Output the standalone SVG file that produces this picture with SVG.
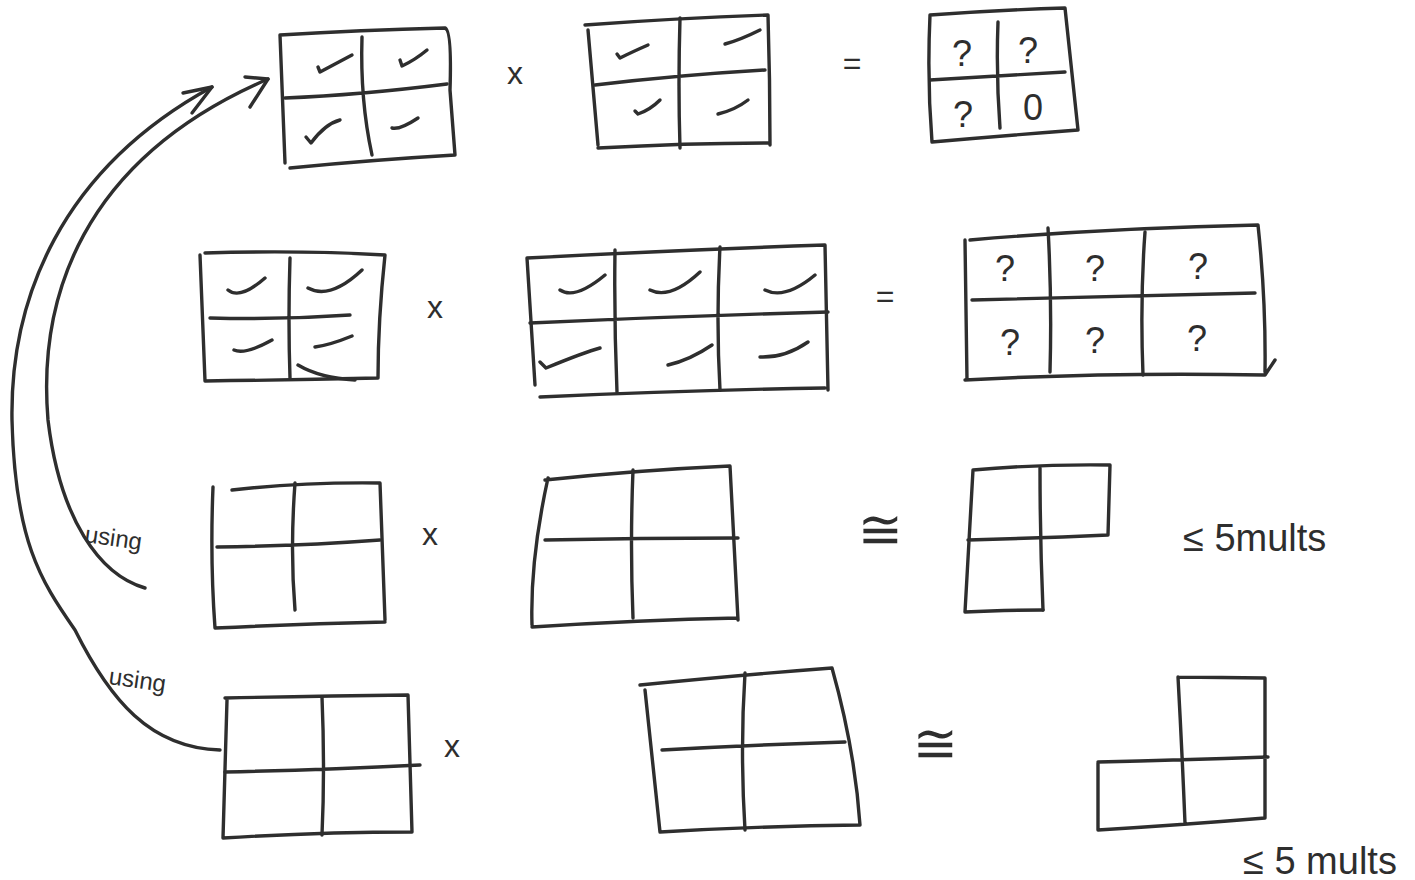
<svg xmlns="http://www.w3.org/2000/svg" width="1415" height="880" viewBox="0 0 1415 880">
<style>
.s{fill:none;stroke:#2e2e2e;stroke-width:3.4;stroke-linecap:round;stroke-linejoin:round}
.t{fill:#2e2e2e;font-family:"Liberation Sans",Arial,sans-serif}
.q{font-size:36px;text-anchor:middle}
.op{font-size:32px;text-anchor:middle}
.cg{font-size:54px;text-anchor:middle;font-family:"DejaVu Sans",sans-serif}
.lab{font-size:24px}
.ml{font-size:38px}
</style>
<rect width="1415" height="880" fill="#fff"/>
<g id="connectors" class="s">
<path d="M220,750 C150,748 110,700 75,630 C40,580 15,540 12,420 C10,300 60,170 212,87"/>
<path d="M183,93 L212,87 L192,113"/>
<path d="M145,588 C100,575 60,520 48,420 C38,300 80,160 268,79"/>
<path d="M245,77 L268,79 L250,107"/>
</g>
<g id="A1" class="s">
<path d="M280,35 Q360,30 445,28 Q452,30 450,90 L455,155 M290,168 Q370,160 455,155 M280,35 L285,163"/>
<path d="M362,37 Q360,100 372,155 M285,98 Q360,95 447,84"/>
<path d="M318,67 L320,72 Q335,64 352,55 M400,60 L402,66 Q415,60 427,50 M306,137 L311,143 Q325,124 340,120 M392,128 Q400,130 418,118"/>
</g>
<text class="t op" x="515" y="84">x</text>
<g id="B1" class="s">
<path d="M585,25 Q680,18 768,15 Q770,80 770,145 M598,148 Q690,143 770,143 M588,30 L598,145"/>
<path d="M680,18 Q678,85 680,148 M595,85 Q680,75 765,70"/>
<path d="M617,54 L620,58 Q632,52 648,45 M725,44 Q740,40 760,30 M635,111 L638,114 Q650,110 660,100 M718,114 Q735,110 748,100"/>
</g>
<text class="t op" x="852" y="74">=</text>
<g id="C1" class="s">
<path d="M930,15 Q1000,10 1065,8 L1078,130 M932,142 Q1000,136 1078,130 M930,15 Q927,80 932,142"/>
<path d="M998,22 Q996,75 1000,128 M930,80 Q1000,76 1065,72"/>
</g>
<text class="t q" x="962" y="66">?</text>
<text class="t q" x="1028" y="63">?</text>
<text class="t q" x="963" y="127">?</text>
<text class="t q" x="1033" y="120">0</text>
<g id="A2" class="s">
<path d="M205,253 Q300,250 385,255 Q378,320 378,378 M205,381 Q290,380 378,378 M200,255 L205,381"/>
<path d="M290,258 Q288,320 290,378 M210,318 Q280,320 350,315"/>
<path d="M228,290 Q240,300 265,278 M308,288 Q330,300 362,270 M234,350 Q245,355 272,340 M315,347 Q330,345 352,336 M298,365 Q320,378 355,380"/>
</g>
<text class="t op" x="435" y="318">x</text>
<g id="B2" class="s">
<path d="M527,258 Q680,250 825,245 L828,390 M540,397 Q690,390 825,388 M527,258 L535,385"/>
<path d="M615,250 Q614,320 617,392 M720,247 Q716,320 720,390 M530,323 Q680,316 828,312"/>
<path d="M560,290 Q575,300 605,275 M650,290 Q670,300 700,272 M765,290 Q785,300 815,275 M540,362 L546,368 Q585,352 600,348 M668,365 Q690,360 712,345 M760,357 Q785,358 808,342"/>
</g>
<text class="t op" x="885" y="307">=</text>
<g id="C2" class="s">
<path d="M970,240 Q1110,228 1258,225 Q1266,300 1265,372 M965,380 Q1110,372 1265,375 L1275,360 M965,240 L967,380"/>
<path d="M1048,228 Q1052,300 1050,372 M1145,232 Q1140,300 1143,375 M972,300 Q1110,296 1255,293"/>
</g>
<text class="t q" x="1005" y="281">?</text>
<text class="t q" x="1095" y="281">?</text>
<text class="t q" x="1198" y="279">?</text>
<text class="t q" x="1010" y="355">?</text>
<text class="t q" x="1095" y="353">?</text>
<text class="t q" x="1197" y="351">?</text>
<g id="A3" class="s">
<path d="M232,490 Q300,482 380,483 L385,620 M215,628 Q300,624 385,622 M213,487 Q210,560 215,628"/>
<path d="M295,483 Q290,550 295,610 M217,547 Q300,546 380,540"/>
</g>
<text class="t op" x="430" y="545">x</text>
<g id="B3" class="s">
<path d="M545,480 Q640,470 730,466 L738,620 M532,627 Q640,620 738,618 M548,478 Q530,560 532,625"/>
<path d="M633,470 Q630,545 633,618 M545,540 Q640,538 738,538"/>
</g>
<text class="t cg" x="880" y="548">≅</text>
<g id="C3" class="s">
<path d="M973,470 Q1040,464 1110,465 L1108,535 M968,540 Q1040,538 1108,535 M973,470 L965,612 Q1000,610 1043,610"/>
<path d="M1040,468 Q1040,540 1043,610"/>
</g>
<text class="t ml" x="1183" y="551">≤ 5mults</text>
<g id="A4" class="s">
<path d="M225,698 Q320,696 408,695 L412,832 M223,838 Q320,832 412,832 M227,700 L223,838"/>
<path d="M322,697 Q325,770 322,835 M225,772 Q320,770 420,765"/>
</g>
<text class="t op" x="452" y="757">x</text>
<g id="B4" class="s">
<path d="M640,685 Q740,675 832,668 Q855,750 860,825 M660,832 Q760,826 860,825 M645,690 L660,832"/>
<path d="M745,673 Q740,750 745,830 M662,750 Q750,745 845,742"/>
</g>
<text class="t cg" x="935" y="762">≅</text>
<g id="C4" class="s">
<path d="M1178,677 L1265,678 L1265,818 M1178,677 Q1182,750 1185,823 M1098,762 Q1180,760 1268,757 M1098,763 L1098,830 Q1180,825 1265,818"/>
</g>
<text class="t ml" x="1243" y="874">≤ 5 mults</text>
<text class="t lab" x="84" y="542" transform="rotate(8 84 542)">using</text>
<text class="t lab" x="108" y="684" transform="rotate(8 108 684)">using</text>
</svg>
